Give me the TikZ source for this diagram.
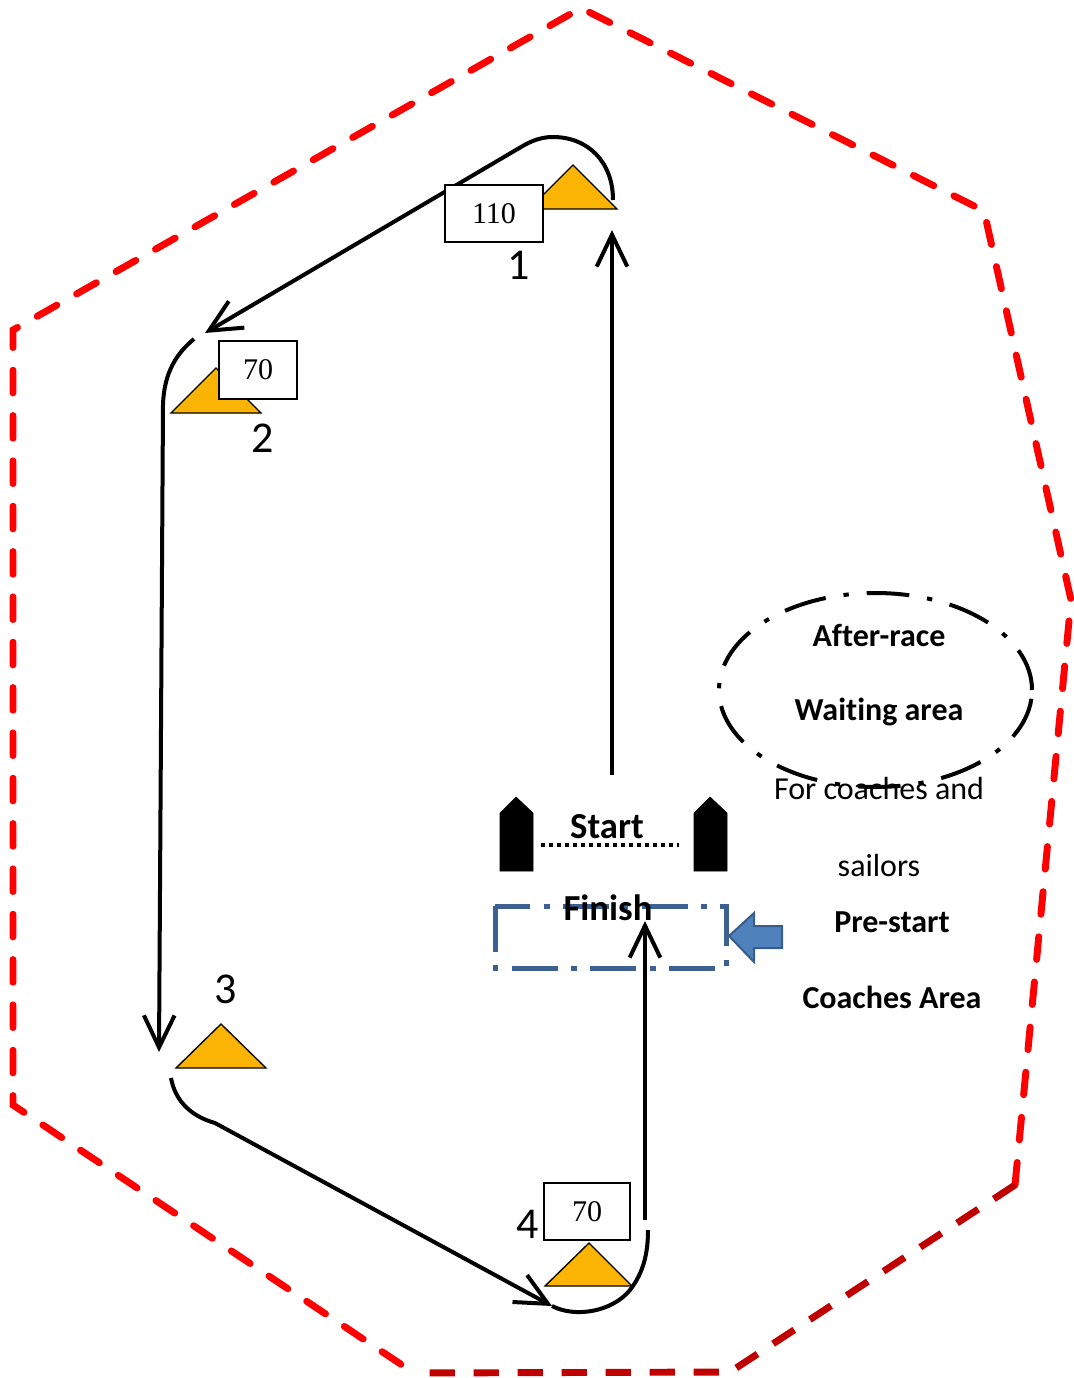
\documentclass[tikz,border=0pt]{standalone}
\usepackage{fontspec}
\setmainfont{Carlito}[RawFeature={-liga;-clig;-calt;-dlig}]
\newfontfamily\timesf{Liberation Serif}
\usetikzlibrary{arrows.meta,shapes.geometric}
\definecolor{markfill}{RGB}{252,180,4}
\definecolor{zonered}{RGB}{255,0,0}
\definecolor{darkzone}{RGB}{192,0,0}
\definecolor{bluedash}{RGB}{59,96,145}
\definecolor{arrowfill}{RGB}{79,129,189}
\definecolor{arrowline}{RGB}{56,93,138}
\begin{document}
\begin{tikzpicture}[x=0.75pt,y=-0.75pt,
  zoneline/.style={line width=5.2pt, zonered, line cap=round, dash pattern=on 17pt off 17pt},
  darkline/.style={line width=5.2pt, darkzone, dash pattern=on 19pt off 14pt},
  course/.style={line width=3pt, black},
  barb/.style={-{Straight Barb[length=24pt,width=23pt]}},
  markstyle/.style={fill=markfill, draw=black, line width=1pt, line join=miter},
  numbox/.style={draw, fill=white, line width=1pt, inner sep=0pt, font=\timesf\fontsize{22.5}{22.5}\selectfont},
  marklabel/.style={inner sep=0pt, font=\fontsize{33}{33}\selectfont},
  boldtext/.style={inner sep=0pt, font=\fontsize{24}{24}\selectfont\bfseries},
  plaintext/.style={inner sep=0pt, font=\fontsize{24}{24}\selectfont},
  bigbold/.style={inner sep=0pt, font=\fontsize{27.5}{27.5}\selectfont\bfseries},
  boat/.style={fill=black, draw=black, line width=0.5pt},
]
\useasboundingbox (0,0) rectangle (1074,1378);

% course area boundary
\coordinate (z1) at (581,8);
\coordinate (z2) at (984,211);
\coordinate (z3) at (1071,600);
\coordinate (z4) at (1015,1185);
\coordinate (z5) at (730,1372);
\coordinate (z6) at (414,1373);
\coordinate (z7) at (13,1105);
\coordinate (z8) at (13,330);
\draw[zoneline] (z4) -- (z3) -- (z2) -- (z1) -- (z8) -- (z7) -- (z6);
\draw[darkline] (z4) -- (z5) -- (z6);

% course waypoints
\coordinate (s0) at (612,775);
\coordinate (s1) at (612,230);
\coordinate (a1) at (613,200);
\coordinate (a1t) at (553,137);
\coordinate (a1e) at (521,147);
\coordinate (t2) at (205,333);
\coordinate (a2) at (194,339);
\coordinate (a2e) at (163,405);
\coordinate (t3) at (159,1052);
\coordinate (a3) at (171,1078);
\coordinate (a3e) at (215,1123);
\coordinate (t4) at (552,1306);
\coordinate (a4m) at (630,1290);
\coordinate (a4e) at (648,1230);
\coordinate (f0) at (645,1220);
\coordinate (f1) at (645,921);

\draw[course, barb] (s0) -- (s1);
\draw[course, barb] (a1) .. controls (613,162) and (588,137) .. (a1t)
   .. controls (541,137) and (531,141) .. (a1e) -- (t2);
\draw[course, barb] (a2) .. controls (177,353) and (164,372) .. (a2e) -- (t3);
\draw[course, barb] (a3) .. controls (175,1100) and (190,1116) .. (a3e) -- (t4);
\draw[course] (t4) .. controls (575,1318) and (612,1312) .. (a4m)
   .. controls (644,1272) and (648,1252) .. (a4e);
\draw[course, barb] (f0) -- (f1);

% marks
\filldraw[markstyle] (573,165) -- (617,209) -- (529,209) -- cycle;
\filldraw[markstyle] (216,368) -- (261,413) -- (171,413) -- cycle;
\filldraw[markstyle] (221,1024) -- (266,1068) -- (176,1068) -- cycle;
\filldraw[markstyle] (589,1243) -- (632,1286) -- (545,1286) -- cycle;

% boxes
\node[numbox, minimum width=73.5pt, minimum height=42.75pt] (b1) at (494,213.5) {110};
\node[numbox, minimum width=58.5pt, minimum height=43.5pt] (b2) at (258,370) {70};
\node[numbox, minimum width=64.5pt, minimum height=42.75pt] (b4) at (587,1211.5) {70};

% mark numbers
\node[marklabel] (n1) at (519,265) {1};
\node[marklabel] (n2) at (263,438) {2};
\node[marklabel] (n3) at (226,989) {3};
\node[marklabel] (n4) at (528,1224) {4};

% start boats and line
\filldraw[boat] (500,871) -- (500,813) -- (516,797) -- (533,813) -- (533,871) -- cycle;
\filldraw[boat] (694,871) -- (694,813) -- (710,797) -- (727,813) -- (727,871) -- cycle;
\coordinate (sl) at (541,845);
\coordinate (sr) at (679,845);
\draw[line width=3pt, dash pattern=on 3pt off 3pt] (sl) -- (sr);
\node[bigbold] (start) at (607,827) {Start};

% pre-start zone
\draw[bluedash, line width=3.75pt, dash pattern=on 34.5pt off 10pt on 4.5pt off 10pt]
  (495,906) rectangle (726,968);
\node[bigbold] (finish) at (608,908) {Finish};
\filldraw[fill=arrowfill, draw=arrowline, line width=1.5pt]
  (729,936) -- (754,913) -- (754,926) -- (782,926) -- (782,948) -- (754,948) -- (754,962) -- cycle;

% waiting area
\node[draw, ellipse, inner sep=0pt, outer sep=0pt, minimum width=234.75pt, minimum height=145.5pt,
  line width=3pt, dash pattern=on 32pt off 13.5pt on 4pt off 13.5pt] (waitzone) at (875.5,690) {};
\node[boldtext] (t1) at (879,635) {After-race};
\node[boldtext] (t2x) at (879,712) {Waiting area};
\node[plaintext] (t3x) at (879,788) {For coaches and};
\node[plaintext] (t4x) at (879,865) {sailors};
\node[boldtext] (t5) at (892,922) {Pre-start};
\node[boldtext] (t6) at (892,997) {Coaches Area};
\end{tikzpicture}
\end{document}
